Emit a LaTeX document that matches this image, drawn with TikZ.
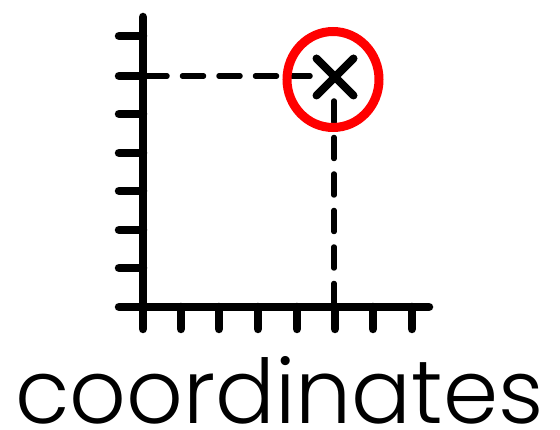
\documentclass[tikz,border=0pt]{standalone}
\usepackage{fontspec}
\setmainfont{Poppins}[UprightFont=* Light]
\usepackage{graphicx}
\usetikzlibrary{calc}
\begin{document}
\begin{tikzpicture}[x=1pt,y=-1pt,
  axis/.style={line width=8.5pt,line cap=round},
  guide/.style={line width=5.5pt,line cap=round,dash pattern=on 21pt off 15.5pt},
  cross/.style={line width=8pt,line cap=round},
  ring/.style={line width=9pt,draw=red}]
\useasboundingbox[fill=white] (0,0) rectangle (560,430);
\coordinate (O) at (143,307);
\coordinate (P) at (335,77);
% axes
\draw[axis] (143,17) -- (O);
\draw[axis] (119,307) -- (429,307);
% y ticks
\foreach \y in {36,76,114,153,191,230,268}
  \draw[axis] (119,\y) -- (143,\y);
% x ticks
\foreach \x in {143,181,219,258,297,335,373,412}
  \draw[axis] (\x,307) -- (\x,329);
% guides
\draw[guide] (146,76) -- (310,76);
\draw[guide] (334,101) -- (334,307);
% cross
\draw[cross] ($(P)+(-18.5,-18.5)$) -- ($(P)+(18.5,18.5)$);
\draw[cross] ($(P)+(18.5,-18.5)$) -- ($(P)+(-18.5,18.5)$);
% ring
\draw[ring] (333,79.5) ellipse[x radius=46, y radius=48];
% label
\node[anchor=base west,inner sep=0pt] (lbl) at (15,424) {\resizebox{528pt}{67pt}{coordinates}};
\end{tikzpicture}
\end{document}
